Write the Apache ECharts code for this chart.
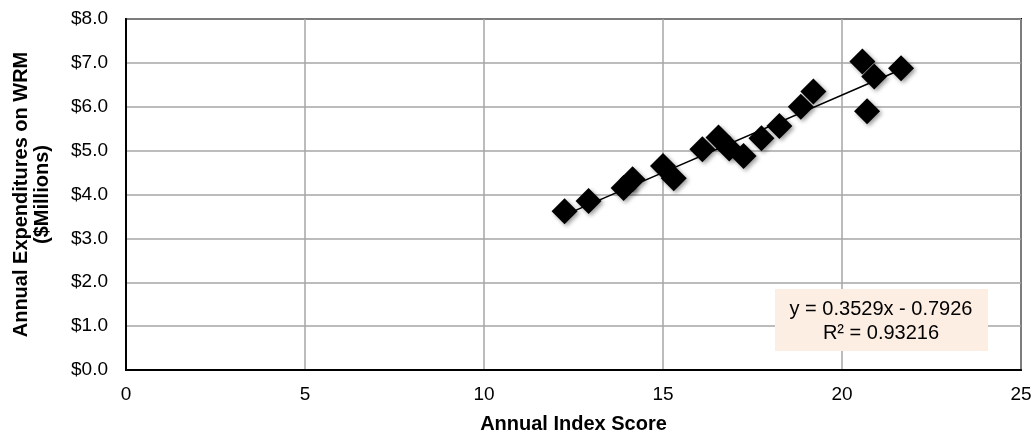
<!DOCTYPE html>
<html>
<head>
<meta charset="utf-8">
<script src="https://cdn.jsdelivr.net/npm/echarts@6/dist/echarts.min.js"></script>
<style>
  html, body { margin: 0; padding: 0; background: #fff; }
  #chart { width: 1033px; height: 434px; }
</style>
</head>
<body>
<div id="chart"></div>
<script>
// Annual index score vs. annual WRM expenditures ($ millions)
const indexScores = [12.25, 12.92, 13.9, 14.15, 15.0, 15.3, 16.1, 16.55, 16.85, 17.25, 17.75, 18.25, 18.85, 19.2, 20.57, 20.9, 20.7, 21.65];
const expenditures = [3.62, 3.85, 4.15, 4.35, 4.65, 4.37, 5.03, 5.3, 5.05, 4.88, 5.28, 5.56, 6.0, 6.35, 7.03, 6.69, 5.9, 6.88];

// Linear trendline as reported
const slope = 0.3529;
const intercept = -0.7926;
const rSquared = 0.93216;

const xTicks = [0, 5, 10, 15, 20, 25];
const yTicks = [0, 1, 2, 3, 4, 5, 6, 7, 8];

const points = indexScores.map((x, i) => [x, expenditures[i]]);
const xMin = Math.min(...indexScores);
const xMax = Math.max(...indexScores);
const trend = [[xMin, slope * xMin + intercept], [xMax, slope * xMax + intercept]];

const font = '"Liberation Sans", Arial, sans-serif';
const chart = echarts.init(document.getElementById('chart'), null, { renderer: 'canvas' });

chart.setOption({
  animation: false,
  backgroundColor: '#ffffff',
  grid: {
    left: 126, right: 12, top: 19, bottom: 64,
    containLabel: false,
    outerBoundsMode: 'none',
    show: true, borderColor: '#000000', borderWidth: 2, backgroundColor: 'transparent'
  },
  xAxis: {
    type: 'value',
    min: xTicks[0], max: xTicks[xTicks.length - 1], interval: 5,
    name: 'Annual Index Score',
    nameLocation: 'middle', nameGap: 44,
    nameTextStyle: { fontFamily: font, fontWeight: 'bold', fontSize: 20, color: '#000' },
    axisLine: { show: true, lineStyle: { color: '#000', width: 2 } },
    axisTick: { show: false },
    axisLabel: { fontFamily: font, fontSize: 19, color: '#000', margin: 15 },
    splitLine: { show: true, lineStyle: { color: '#a6a6a6', width: 1.5 } }
  },
  yAxis: {
    type: 'value',
    min: yTicks[0], max: yTicks[yTicks.length - 1], interval: 1,
    name: 'Annual Expenditures on WRM\n($Millions)',
    nameLocation: 'middle', nameGap: 73, nameRotate: 90,
    nameTextStyle: { fontFamily: font, fontWeight: 'bold', fontSize: 20, color: '#000', lineHeight: 21 },
    axisLine: { show: true, lineStyle: { color: '#000', width: 2 } },
    axisTick: { show: false },
    axisLabel: {
      fontFamily: font, fontSize: 19, color: '#000', margin: 18,
      formatter: v => '$' + v.toFixed(1)
    },
    splitLine: { show: true, lineStyle: { color: '#a6a6a6', width: 1.5 } }
  },
  series: [
    {
      type: 'line',
      data: trend,
      symbol: 'none',
      lineStyle: { color: '#000', width: 1.5 },
      z: 3
    },
    {
      type: 'scatter',
      data: points,
      symbol: 'diamond',
      symbolSize: [26, 26],
      itemStyle: {
        color: '#000',
        opacity: 1,
        shadowColor: 'rgba(0,0,0,0.4)',
        shadowBlur: 4,
        shadowOffsetX: 2,
        shadowOffsetY: 2
      },
      z: 4
    }
  ],
  graphic: [
    {
      type: 'rect',
      left: 775, top: 289,
      shape: { width: 213, height: 62 },
      style: { fill: '#fdeee3' },
      z: 10
    },
    {
      type: 'text',
      x: 881, y: 321,
      style: {
        text: 'y = ' + slope + 'x - ' + Math.abs(intercept) + '\nR² = ' + rSquared,
        align: 'center',
        verticalAlign: 'middle',
        fontFamily: font, fontSize: 20, lineHeight: 24, fill: '#000'
      },
      z: 11
    }
  ]
});
</script>
</body>
</html>
